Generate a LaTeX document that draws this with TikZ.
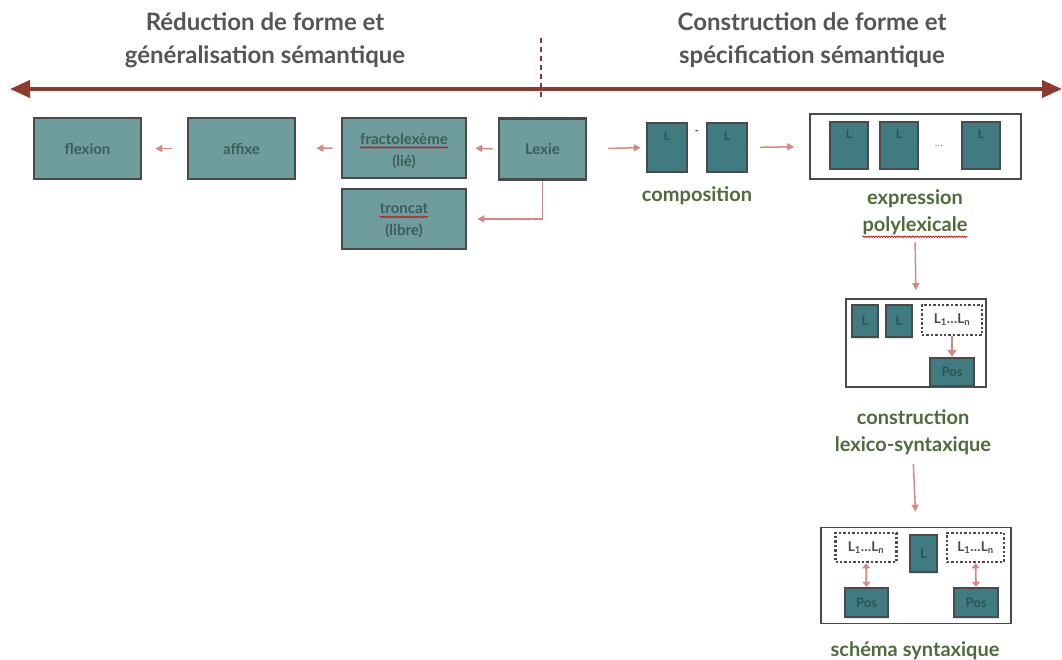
\documentclass[tikz,border=0pt]{standalone}
\usepackage{fontspec}
\setmainfont{Lato}
\usetikzlibrary{arrows.meta,shadows,decorations.pathmorphing}
\definecolor{axisc}{HTML}{8E3B2E}
\definecolor{dashc}{HTML}{7B3A33}
\definecolor{arrc}{HTML}{D48A80}
\definecolor{boxfill}{HTML}{6F9D9D}
\definecolor{boxtext}{HTML}{3F5C5C}
\definecolor{bordc}{HTML}{4A4A4A}
\definecolor{lfill}{HTML}{3F7B80}
\definecolor{ltext}{HTML}{2D5559}
\definecolor{greenc}{HTML}{4F6B3B}
\definecolor{titlec}{HTML}{555555}
\tikzset{
  shad/.style={drop shadow={shadow xshift=1pt,shadow yshift=-1.5pt,opacity=0.25}},
  gbox/.style={draw=bordc,line width=2.6pt,fill=boxfill,shad,text=boxtext,font=\fontsize{15}{21}\selectfont\bfseries,align=center,inner sep=0pt},
  gtext/.style={text=boxtext,font=\fontsize{15}{18}\selectfont\bfseries,inner sep=0pt},
  squig/.style={draw=red!80!black,line width=0.7pt,decorate,decoration={snake,amplitude=0.7pt,segment length=2.6pt}},
  lbox/.style={draw=bordc,line width=2.4pt,fill=lfill,shad,text=ltext,font=\fontsize{13}{15}\selectfont\bfseries,inner sep=0pt},
  ltop/.style={lbox,font=\fontsize{12}{14}\selectfont\bfseries,text height=9pt,text depth=22pt},
  frame/.style={draw=bordc,line width=1.6pt,inner sep=0pt},
  dotbox/.style={draw=bordc,line width=2.6pt,dash pattern=on 2.4pt off 2pt,fill=white,text=bordc,font=\fontsize{13.5}{15}\selectfont\bfseries,inner sep=0pt},
  sarr/.style={draw=arrc,line width=1.5pt,-{Triangle[length=7pt,width=7pt]}},
  karr/.style={draw=arrc,line width=1.8pt,-{Triangle[length=7pt,width=9pt]}},
  darr/.style={draw=arrc,line width=1.8pt,{Triangle[length=5pt,width=8pt]}-{Triangle[length=5pt,width=8pt]}},
  glabel/.style={text=greenc,font=\fontsize{20}{27}\selectfont\bfseries,align=center,inner sep=0pt},
  ttl/.style={text=titlec,font=\fontsize{24}{33}\selectfont\bfseries,align=center,inner sep=0pt},
}
\begin{document}
\begin{tikzpicture}[x=1pt,y=-1pt]
\useasboundingbox[fill=white] (0,0) rectangle (1062,660);
% titles
\node[ttl] (tleft) at (265,40) {Réduction de forme et\\généralisation sémantique};
\node[ttl] (tright) at (812,40) {Construction de forme et\\spécification sémantique};
% axis
\coordinate (axL) at (10,89);
\coordinate (axR) at (1062,89);
\draw[axisc,line width=4pt,{Triangle[length=20pt,width=17pt]}-{Triangle[length=20pt,width=17pt]}] (axL) -- (axR);
\coordinate (dT) at (541,38);
\coordinate (dB) at (541,98);
\draw[dashc,line width=2pt,dash pattern=on 5pt off 4pt] (dT) -- (dB);
% left row
\node[gbox,minimum width=107pt,minimum height=61pt] (flexion) at (87.5,148.5) {flexion};
\node[gbox,minimum width=107pt,minimum height=61pt] (affixe) at (241.5,148.5) {affixe};
\node[gbox,minimum width=124pt,minimum height=60pt] (fracto) at (404,148) {};
\node[gtext] (fractoA) at (404,139) {fractolexème};
\node[gtext] (fractoB) at (404,162) {(lié)};
\draw[squig] ([yshift=-3pt]fractoA.base west) -- ([yshift=-3pt]fractoA.base east);
\node[gbox,minimum width=87pt,minimum height=61pt] (lexie) at (542.5,149) {Lexie};
\node[gbox,minimum width=124pt,minimum height=60pt] (troncat) at (404,219) {};
\node[gtext] (troncatA) at (404,209) {troncat};
\node[gtext] (troncatB) at (404,231) {(libre)};
\draw[squig] ([yshift=-3pt]troncatA.base west) -- ([yshift=-3pt]troncatA.base east);
\draw[sarr,shorten <=15pt,shorten >=13pt] (affixe.west) -- (flexion.east);
\draw[sarr,shorten <=8pt,shorten >=20pt] (fracto.west) -- (affixe.east);
\draw[sarr,shorten <=5pt,shorten >=8pt] (lexie.west) -- (fracto.east);
\draw[sarr,shorten >=10pt] (lexie.south) |- (troncat.east);
% composition
\node[ltop,minimum width=40pt,minimum height=49pt] (c1) at (667,147.5) {L};
\node[ltop,minimum width=40pt,minimum height=49pt] (c2) at (727,147.5) {L};
\node[text=bordc,font=\fontsize{11}{12}\selectfont\bfseries,inner sep=0pt] (cdash) at (697,133) {-};
\node[glabel] (compo) at (697,196) {composition};
\draw[sarr,shorten <=21pt,shorten >=5pt] (lexie.east) -- (c1.west);
% expression polylexicale
\node[frame,minimum width=211pt,minimum height=65pt] (ebox) at (915.5,146.5) {};
\node[ltop,minimum width=38pt,minimum height=47pt] (e1) at (849,145.5) {L};
\node[ltop,minimum width=38pt,minimum height=47pt] (e2) at (899,145.5) {L};
\node[ltop,minimum width=38pt,minimum height=47pt] (e3) at (981,145.5) {L};
\node[text=bordc!70,font=\fontsize{11}{12}\selectfont,inner sep=0pt] (edots) at (939,146) {\ldots};
\node[glabel] (eplA) at (915,199) {expression};
\node[glabel] (eplB) at (915,226) {polylexicale};
\draw[squig] ([yshift=-5pt]eplB.base west) -- ([yshift=-5pt]eplB.base east);
\draw[sarr,shorten <=12pt,shorten >=15pt] (c2.east) -- (ebox.west);
% construction lexico-syntaxique
\node[frame,minimum width=140pt,minimum height=88pt] (cbox) at (916,343) {};
\node[lbox,minimum width=26pt,minimum height=32pt] (k1) at (865,321) {L};
\node[lbox,minimum width=26pt,minimum height=32pt] (k2) at (899,321) {L};
\node[dotbox,minimum width=60pt,minimum height=30pt] (kd) at (952,320) {L\textsubscript{1}\ldots L\textsubscript{n}};
\node[lbox,minimum width=44pt,minimum height=28pt] (kpos) at (952,372) {Pos};
\draw[karr] (kd.south) -- (kpos.north);
\node[glabel] (cls) at (913,432) {construction\\lexico-syntaxique};
\draw[sarr,shorten <=7pt,shorten >=8pt] (eplB.south) -- (cbox.north);
% schema syntaxique
\node[frame,minimum width=190pt,minimum height=96pt] (sbox) at (916,575.5) {};
\node[dotbox,minimum width=61pt,minimum height=29pt] (sd1) at (866,547.5) {L\textsubscript{1}\ldots L\textsubscript{n}};
\node[lbox,minimum width=27pt,minimum height=37pt] (sl) at (923.5,553.5) {L};
\node[dotbox,minimum width=57pt,minimum height=29pt] (sd2) at (975.5,547.5) {L\textsubscript{1}\ldots L\textsubscript{n}};
\node[lbox,minimum width=43pt,minimum height=29pt] (sp1) at (866.5,602.5) {Pos};
\node[lbox,minimum width=44pt,minimum height=29pt] (sp2) at (976,602.5) {Pos};
\draw[darr] (sd1.south) -- (sp1.north);
\draw[darr] (sd2.south) -- (sp2.north);
\node[glabel] (schema) at (915,651) {schéma syntaxique};
\draw[sarr,shorten <=9pt,shorten >=15pt] (cls.south) -- (sbox.north);
\end{tikzpicture}
\end{document}
